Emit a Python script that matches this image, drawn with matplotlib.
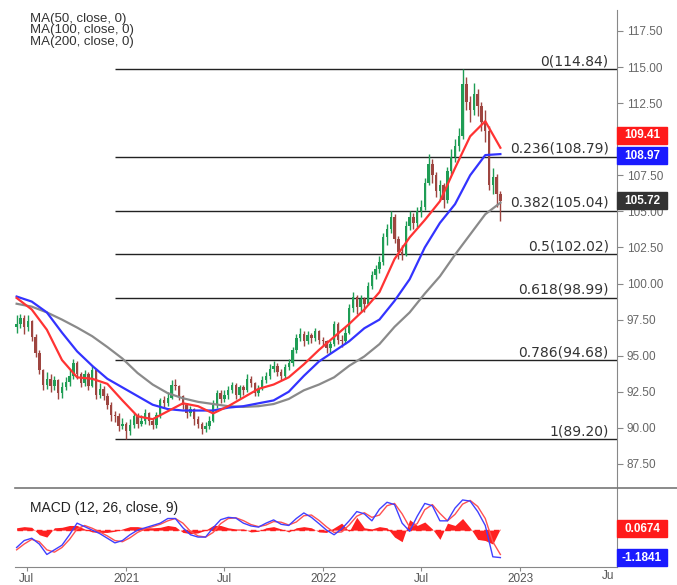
import matplotlib
matplotlib.use('Agg')
import matplotlib.pyplot as plt
import matplotlib.dates as mdates
import matplotlib.transforms as mtransforms
from matplotlib.patches import Rectangle
from matplotlib.lines import Line2D
import numpy as np
import pandas as pd

# weekly closes / highs / lows (Jun 2020 - Nov 2022)
closes = [97.2, 97.6, 97.0, 97.4, 96.3, 95.2, 94.0, 93.0, 93.4, 92.9,
          93.3, 92.4, 92.8, 93.2, 93.6, 94.5, 93.7, 93.1, 93.7, 92.9,
          94.0, 92.3, 92.7, 92.2, 91.6, 90.9, 90.8, 90.1, 90.3, 89.8,
          90.2, 90.8, 90.3, 90.5, 91.0, 90.5, 90.2, 90.9, 91.9, 91.7,
          92.1, 93.0, 92.9, 92.2, 91.6, 91.0, 91.3, 90.6, 90.3, 89.9,
          90.1, 90.5, 91.6, 92.4, 92.0, 92.3, 92.6, 93.0, 92.3, 92.8,
          92.6, 93.4, 93.1, 92.4, 92.7, 93.3, 93.6, 94.1, 94.3, 93.9,
          93.6, 94.2, 94.5, 95.4, 96.2, 96.5, 96.0, 96.4, 96.2, 96.7,
          96.1, 96.0, 95.5, 95.8, 97.2, 96.1, 96.0, 96.6, 98.3, 99.1,
          98.4, 98.9, 98.6, 99.8, 100.6, 101.0, 101.5, 103.2, 103.8, 104.6,
          103.1, 102.2, 102.0, 104.0, 104.6, 104.2, 105.0, 105.3, 107.0, 108.3,
          107.5, 106.4, 106.8, 105.8, 107.8, 108.8, 109.5, 110.2, 113.8, 112.6,
          112.0, 113.1, 112.3, 111.2, 110.6, 106.8, 107.4, 106.2, 105.72]
highs = [97.8, 97.9, 97.8, 97.8, 97.5, 96.5, 95.4, 94.1, 93.9, 93.7,
         93.6, 93.4, 93.2, 93.5, 94.0, 94.8, 94.6, 93.9, 94.0, 93.9,
         94.3, 94.1, 93.1, 92.9, 92.4, 91.8, 91.2, 91.0, 90.7, 90.4,
         90.6, 91.0, 91.0, 90.9, 91.3, 91.1, 90.7, 91.1, 92.1, 92.2,
         92.5, 93.3, 93.4, 93.0, 92.3, 91.7, 91.5, 91.4, 90.8, 90.4,
         90.4, 90.8, 91.9, 92.6, 92.6, 92.6, 92.9, 93.2, 93.1, 93.0,
         93.0, 93.7, 93.6, 93.2, 93.0, 93.6, 93.9, 94.4, 94.6, 94.5,
         94.1, 94.4, 94.8, 95.6, 96.5, 96.9, 96.7, 96.7, 96.6, 96.9,
         96.8, 96.3, 96.1, 96.0, 97.4, 97.3, 96.4, 97.0, 98.6, 99.4,
         99.2, 99.2, 99.1, 100.1, 100.9, 101.3, 101.9, 103.5, 104.1, 105.0,
         104.8, 103.3, 102.7, 104.3, 105.0, 104.9, 105.3, 105.8, 107.3, 109.0,
         108.6, 107.7, 107.2, 107.0, 108.1, 109.3, 110.0, 110.8, 114.84, 114.3,
         113.0, 113.9, 113.5, 112.6, 112.0, 110.9, 108.0, 107.6, 106.4]
lows = [96.6, 96.9, 96.5, 96.7, 96.0, 94.9, 93.7, 92.6, 92.7, 92.5,
        92.6, 92.0, 92.1, 92.6, 92.9, 93.4, 93.4, 92.8, 92.9, 92.6,
        92.8, 92.0, 92.1, 91.9, 91.3, 90.5, 90.4, 89.8, 89.9, 89.2,
        89.5, 90.0, 90.0, 90.1, 90.3, 90.2, 89.9, 90.0, 90.7, 91.4,
        91.5, 92.0, 92.6, 91.9, 91.3, 90.7, 90.8, 90.2, 90.0, 89.6,
        89.7, 89.9, 90.4, 91.4, 91.7, 91.8, 92.0, 92.4, 92.0, 92.1,
        92.3, 92.5, 92.8, 92.2, 92.2, 92.6, 93.1, 93.4, 93.9, 93.6,
        93.3, 93.4, 94.0, 94.3, 95.2, 96.0, 95.7, 95.8, 95.9, 96.0,
        95.8, 95.7, 95.2, 95.2, 95.7, 95.8, 95.6, 95.8, 96.5, 98.0,
        97.9, 98.1, 98.0, 98.5, 99.6, 100.3, 100.7, 101.3, 102.7, 103.5,
        102.8, 101.7, 101.6, 101.9, 103.7, 103.8, 103.9, 104.6, 105.1, 106.8,
        107.0, 106.0, 105.8, 105.2, 105.6, 107.6, 108.4, 109.2, 110.0, 112.0,
        111.2, 111.7, 111.6, 110.6, 109.8, 106.5, 106.2, 105.3, 104.3]
first_open = 97.0
dates = pd.date_range('2020-06-12', periods=len(closes), freq='7D')

# moving averages, read every 4 weeks
ma50 = [99.0, 98.2, 96.8, 94.7, 93.5, 93.4, 93.05, 91.9, 90.8, 90.6,
        91.15, 91.7, 91.5, 91.0, 91.5, 92.1, 92.7, 93.0, 93.5, 94.4,
        95.4, 96.3, 97.2, 98.2, 99.4, 101.7, 103.2, 104.4, 105.7, 108.0,
        110.2, 111.25, 109.41]
ma100 = [99.1, 98.75, 98.0, 96.6, 95.3, 94.3, 93.4, 92.8, 92.2, 91.6,
         91.3, 91.2, 91.2, 91.2, 91.4, 91.5, 91.7, 91.9, 92.5, 93.6,
         94.6, 95.3, 96.0, 96.9, 97.5, 98.8, 100.3, 102.5, 104.2, 105.5,
         107.5, 108.9, 108.97]
ma200 = [98.6, 98.4, 98.0, 97.5, 96.95, 96.35, 95.6, 94.8, 93.8, 93.0,
         92.4, 92.05, 91.8, 91.65, 91.5, 91.45, 91.5, 91.65, 92.0, 92.6,
         93.0, 93.5, 94.3, 94.95, 95.8, 97.0, 98.0, 99.3, 100.5, 102.0,
         103.4, 104.8, 105.6]
ma_dates = dates[::4]

fib_levels = [0, 0.236, 0.382, 0.5, 0.618, 0.786, 1]
fib_prices = [114.84, 108.79, 105.04, 102.02, 98.99, 94.68, 89.20]

# MACD panel, read every 2 weeks
macd = [-0.75, -0.45, -0.35, -0.6, -1.05, -0.85, -0.65, -0.2, 0.3, 0.15,
        0.0, -0.15, -0.35, -0.55, -0.45, -0.2, 0.0, 0.1, 0.2, 0.3,
        0.5, 0.5, 0.1, -0.2, -0.3, -0.3, 0.1, 0.45, 0.55, 0.52,
        0.3, 0.18, 0.13, 0.3, 0.44, 0.25, 0.2, 0.5, 0.74, 0.55,
        0.28, 0.0, -0.2, 0.05, 0.4, 0.8, 0.7, 0.4, 0.9, 1.2,
        1.1, 0.3, -0.05, 0.6, 1.15, 1.05, 0.4, 0.4, 0.95, 1.3,
        1.25, 0.8, 0.2, -1.15, -1.1841]
signal = [-0.85, -0.6, -0.4, -0.5, -0.85, -0.95, -0.75, -0.4, 0.05, 0.2,
          0.08, -0.08, -0.25, -0.45, -0.5, -0.33, -0.1, 0.05, 0.15, 0.25,
          0.4, 0.5, 0.3, -0.05, -0.25, -0.3, -0.1, 0.28, 0.5, 0.53,
          0.41, 0.24, 0.15, 0.22, 0.37, 0.34, 0.22, 0.35, 0.62, 0.65,
          0.42, 0.14, -0.1, -0.08, 0.22, 0.6, 0.75, 0.55, 0.65, 1.05,
          1.15, 0.7, 0.12, 0.28, 0.88, 1.1, 0.72, 0.4, 0.68, 1.12,
          1.28, 1.02, 0.5, -0.5, -1.05]
hist = [0.1, 0.15, 0.12, -0.2, -0.3, 0.1, 0.12, 0.2, 0.2, 0.05,
        -0.08, -0.1, -0.1, -0.05, 0.05, 0.15, 0.15, 0.1, 0.1, 0.12,
        0.2, 0.15, -0.1, -0.15, -0.12, 0.0, 0.2, 0.2, 0.1, 0.05,
        0.05, -0.08, -0.05, 0.1, 0.15, 0.05, -0.08, 0.1, 0.15, 0.1,
        -0.08, -0.1, 0.1, 0.3, -0.05, 0.55, 0.1, 0.05, 0.15, 0.1,
        -0.3, -0.5, 0.45, 0.2, 0.35, 0.05, -0.4, 0.3, 0.2, 0.5,
        0.1, -0.4, -0.45, -0.6, 0.0674]
macd_dates = dates[::2]

FW, FH = 677, 585


def fx(px):
    return px / FW


def fy(py):
    return 1 - py / FH


fig = plt.figure(figsize=(FW / 100, FH / 100), dpi=100)
ax = fig.add_axes([fx(15), fy(487), fx(617) - fx(15), fy(10) - fy(487)])
axm = fig.add_axes([fx(15), fy(567), fx(617) - fx(15), fy(488) - fy(567)], sharex=ax)

# candles
opens = [first_open] + closes[:-1]
up_col, dn_col = '#1f9d55', '#9e4540'
cols = [up_col if c >= o else dn_col for o, c in zip(opens, closes)]
ax.vlines(dates, lows, highs, colors=cols, lw=1.0, zorder=2)
body = [max(abs(c - o), 0.08) for o, c in zip(opens, closes)]
bottoms = [min(o, c) for o, c in zip(opens, closes)]
ax.bar(dates, body, bottom=bottoms, width=4.5, color=cols, zorder=2)

# fibonacci retracement
fib_start = pd.Timestamp('2020-12-11')
xmin, xmax = pd.Timestamp('2020-06-09'), pd.Timestamp('2023-06-29')
ax.hlines(fib_prices, fib_start, xmax, colors='#222222', lw=1.0, zorder=1)
blend = mtransforms.blended_transform_factory(ax.transAxes, ax.transData)
for lvl, p in zip(fib_levels, fib_prices):
    ax.annotate(f"{lvl:g}({p:.2f})", xy=(1.0, p), xycoords=blend,
                xytext=(-6, 3), textcoords='offset points', ha='right',
                va='baseline', fontsize=10, color='#333333', family='DejaVu Sans')

# moving averages
ax.plot(ma_dates, ma200, color='#8a8a8a', lw=1.6, zorder=3)
ax.plot(ma_dates, ma100, color='#3333ff', lw=1.6, zorder=4)
ax.plot(ma_dates, ma50, color='#ff3333', lw=1.6, zorder=5)

ax.set_xlim(xmin, xmax)
ax.set_ylim(85.90, 118.955)
ax.yaxis.tick_right()
ax.set_yticks(np.arange(87.5, 118, 2.5))
# 110.00 sits behind the last-value box, so leave its label blank
ax.yaxis.set_major_formatter(matplotlib.ticker.FuncFormatter(
    lambda v, pos: '' if abs(v - 110.0) < 1e-6 else f'{v:.2f}'))
ax.tick_params(axis='y', length=4, width=0.8, color='#888888', labelcolor='#666666',
               labelsize=8.5, pad=3)
ax.tick_params(axis='x', bottom=False, labelbottom=False)
for s in ['top', 'left', 'bottom']:
    ax.spines[s].set_visible(False)
ax.spines['right'].set_color('#888888')
for lab in ax.get_yticklabels():
    lab.set_family('Liberation Sans')

# MACD panel
axm.fill_between(macd_dates, 0, hist, color='#ff2020', lw=0, interpolate=True, zorder=2)
axm.hlines(0, macd_dates[0], macd_dates[-1], colors='#ff2020', linestyles=(0, (4, 3)),
           lw=1, zorder=2)
axm.plot(macd_dates, signal, color='#ff5050', lw=1.0, zorder=3)
axm.plot(macd_dates, macd, color='#4040ff', lw=1.0, zorder=4)
axm.set_ylim(-1.59, 1.815)
axm.set_yticks([])
for s in ['top', 'left']:
    axm.spines[s].set_visible(False)
axm.spines['right'].set_color('#888888')
axm.spines['bottom'].set_color('#888888')
axm.xaxis.set_major_locator(mdates.MonthLocator(bymonth=[1, 7]))
axm.xaxis.set_major_formatter(matplotlib.ticker.FuncFormatter(
    lambda v, pos: 'Jul' if mdates.num2date(v).month == 7 else str(mdates.num2date(v).year)))
axm.tick_params(axis='x', length=3, color='#888888', labelcolor='#555555',
                labelsize=8.5, pad=1.5)
for lab in axm.get_xticklabels():
    lab.set_family('Liberation Sans')
axm.set_xlim(xmin, xmax)
fig.text(fx(614), fy(576), 'Ju', ha='right', va='center', fontsize=8.5,
         color='#555555', family='Liberation Sans')

fig.text(fx(30), fy(508), 'MACD (12, 26, close, 9)', va='center', fontsize=10,
         color='#222222', family='Liberation Sans')

# separator between panels
fig.add_artist(Line2D([fx(15), 1.0], [fy(487.5), fy(487.5)], transform=fig.transFigure,
                      color='#777777', lw=1.2))

# MA legend
ma_names = ['MA(50, close, 0)', 'MA(100, close, 0)', 'MA(200, close, 0)']
fig.text(fx(30), fy(13), '\n'.join(ma_names), va='top', fontsize=9.5, color='#333333',
         family='Liberation Sans', linespacing=0.92)


def value_box(a, yval, text, color, ppu):
    tr = mtransforms.blended_transform_factory(a.transAxes, a.transData)
    w = 50 / 602
    h = 17 / ppu
    a.add_patch(Rectangle((1.0, yval - h / 2), w, h, transform=tr, color=color,
                          clip_on=False, zorder=10))
    a.text(1.0 + w / 2, yval, text, transform=tr, ha='center', va='center',
           color='white', fontsize=8.5, fontweight='bold', family='Liberation Sans',
           clip_on=False, zorder=11)


ppu_main = 477 / (118.955 - 85.90)
ppu_macd = 79 / (1.815 + 1.59)
value_box(ax, 110.29, '109.41', '#ff1a1a', ppu_main)
value_box(ax, 108.87, '108.97', '#1a1aff', ppu_main)
value_box(ax, 105.72, '105.72', '#333333', ppu_main)
value_box(axm, 0.0674, '0.0674', '#ff1a1a', ppu_macd)
value_box(axm, -1.1841, '-1.1841', '#1a1aff', ppu_macd)

fig.savefig('out.png', dpi=100)
